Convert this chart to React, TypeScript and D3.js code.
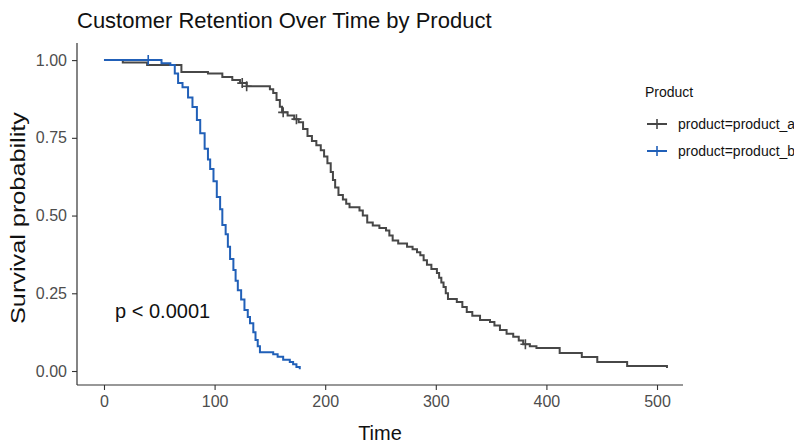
import React, { useEffect, useRef } from 'react';
import * as d3 from 'd3';

// Kaplan-Meier steps (time, survival)
const timeA = [0, 17, 39, 70, 94, 107, 116, 123, 129, 150, 153, 156, 159, 161, 166, 172, 176, 180, 184, 188, 192, 196, 199, 202, 205, 207, 209, 212, 216, 219, 222, 231, 234, 238, 243, 249, 255, 258, 261, 266, 274, 279, 283, 286, 289, 292, 296, 301, 303, 305, 307, 309, 311, 319, 324, 328, 333, 340, 349, 353, 358, 364, 370, 375, 379, 385, 391, 412, 432, 446, 473, 509];
const survA = [1, 0.992, 0.984, 0.962, 0.957, 0.946, 0.936, 0.926, 0.916, 0.906, 0.894, 0.872, 0.85, 0.832, 0.822, 0.81, 0.8, 0.778, 0.756, 0.74, 0.726, 0.71, 0.69, 0.668, 0.64, 0.614, 0.59, 0.566, 0.552, 0.538, 0.527, 0.516, 0.5, 0.478, 0.468, 0.46, 0.452, 0.436, 0.42, 0.41, 0.4, 0.392, 0.382, 0.372, 0.356, 0.342, 0.328, 0.315, 0.3, 0.285, 0.27, 0.25, 0.232, 0.222, 0.206, 0.19, 0.178, 0.164, 0.158, 0.146, 0.132, 0.12, 0.11, 0.098, 0.086, 0.08, 0.074, 0.058, 0.045, 0.029, 0.016, 0.01];
const timeB = [0, 52, 60, 64, 67, 71, 76, 80, 84, 87, 91, 94, 96, 99, 102, 105, 107, 110, 112, 114, 117, 119, 121, 124, 127, 130, 132, 135, 137, 139, 141, 153, 157, 162, 168, 171, 174, 177];
const survB = [1, 0.99, 0.984, 0.957, 0.926, 0.913, 0.88, 0.849, 0.807, 0.765, 0.715, 0.68, 0.65, 0.61, 0.56, 0.52, 0.47, 0.44, 0.4, 0.36, 0.325, 0.29, 0.26, 0.23, 0.196, 0.174, 0.154, 0.125, 0.1, 0.08, 0.06, 0.054, 0.046, 0.036, 0.029, 0.022, 0.013, 0.006];
const censorA = [125, 129, 162, 174, 381];
const censorB = [40];

const seriesNames = ['product=product_a', 'product=product_b'];
const seriesColors = ['#474747', '#2160b8'];
const xTicks = [0, 100, 200, 300, 400, 500];
const yTicks = [0, 0.25, 0.5, 0.75, 1];

const FONT = '"Liberation Sans", Arial, sans-serif';

const App = () => {
  const ref = useRef<SVGSVGElement>(null);

  useEffect(() => {
    const svg = d3.select(ref.current);
    svg.selectAll('*').remove();

    const x = d3.scaleLinear().domain([-24.4, 523.5]).range([77, 683]);
    const y = d3.scaleLinear().domain([-0.045, 1.055]).range([385, 43]);

    const series = [
      { times: timeA, surv: survA, censor: censorA, color: seriesColors[0] },
      { times: timeB, surv: survB, censor: censorB, color: seriesColors[1] },
    ];

    const line = d3.line<[number, number]>()
      .x(d => x(d[0]))
      .y(d => y(d[1]))
      .curve(d3.curveStepAfter);

    const cross = (g, cx: number, cy: number, color: string) => {
      g.append('path')
        .attr('d', `M${cx - 5},${cy}H${cx + 5}M${cx},${cy - 5}V${cy + 5}`)
        .attr('stroke', color)
        .attr('stroke-width', 1.6);
    };

    // curves
    series.forEach(s => {
      const pts = s.times.map((t, i) => [t, s.surv[i]] as [number, number]);
      svg.append('path')
        .attr('d', line(pts))
        .attr('fill', 'none')
        .attr('stroke', s.color)
        .attr('stroke-width', 2);
      s.censor.forEach(t => {
        const i = d3.bisectRight(s.times, t) - 1;
        cross(svg, x(t), y(s.surv[i]), s.color);
      });
    });

    // axes
    const axisColor = '#333';
    const xAxis = svg.append('g')
      .attr('transform', 'translate(0,385)')
      .call(d3.axisBottom(x).tickValues(xTicks).tickSize(5).tickPadding(6).tickFormat(d3.format('d')));
    xAxis.select('.domain').attr('stroke', axisColor).attr('stroke-width', 1.2).attr('d', 'M77,0H683');

    const yAxis = svg.append('g')
      .attr('transform', 'translate(77,0)')
      .call(d3.axisLeft(y).tickValues(yTicks).tickSize(5).tickPadding(5).tickFormat(d3.format('.2f')));
    yAxis.select('.domain').attr('stroke', axisColor).attr('stroke-width', 1.2).attr('d', 'M0,43V385');

    [xAxis, yAxis].forEach(a => {
      a.selectAll('.tick line').attr('stroke', axisColor).attr('stroke-width', 1.1);
      a.selectAll('.tick text')
        .attr('fill', '#4d4d4d')
        .style('font-family', FONT)
        .style('font-size', '16px');
    });

    // titles
    svg.append('text')
      .attr('x', 77).attr('y', 28)
      .style('font-family', FONT).style('font-size', '22px')
      .attr('fill', '#111')
      .text('Customer Retention Over Time by Product');

    svg.append('text')
      .attr('x', 380).attr('y', 440)
      .attr('text-anchor', 'middle')
      .style('font-family', FONT).style('font-size', '20px')
      .attr('fill', '#111')
      .text('Time');

    svg.append('text')
      .attr('transform', 'translate(25,218) rotate(-90)')
      .attr('text-anchor', 'middle')
      .attr('textLength', 212)
      .attr('lengthAdjust', 'spacingAndGlyphs')
      .style('font-family', FONT).style('font-size', '20px')
      .attr('fill', '#111')
      .text('Survival probability');

    svg.append('text')
      .attr('x', x(10)).attr('y', 318)
      .style('font-family', FONT).style('font-size', '20px')
      .attr('fill', '#111')
      .text('p < 0.0001');

    // legend
    const legend = svg.append('g').attr('transform', 'translate(645,0)');
    legend.append('text')
      .attr('x', 0).attr('y', 97)
      .style('font-family', FONT).style('font-size', '14px')
      .attr('fill', '#111')
      .text('Product');
    seriesNames.forEach((name, i) => {
      const cy = 124 + i * 27;
      legend.append('line')
        .attr('x1', 2).attr('x2', 22).attr('y1', cy).attr('y2', cy)
        .attr('stroke', seriesColors[i]).attr('stroke-width', 2);
      cross(legend, 12, cy, seriesColors[i]);
      legend.append('text')
        .attr('x', 33).attr('y', cy + 5)
        .style('font-family', FONT).style('font-size', '14px')
        .attr('fill', '#111')
        .text(name);
    });
  }, []);

  return (
    <svg
      ref={ref}
      width={794}
      height={443}
      style={{ position: 'absolute', left: 0, top: 0, background: '#fff' }}
    />
  );
};

export default App;
